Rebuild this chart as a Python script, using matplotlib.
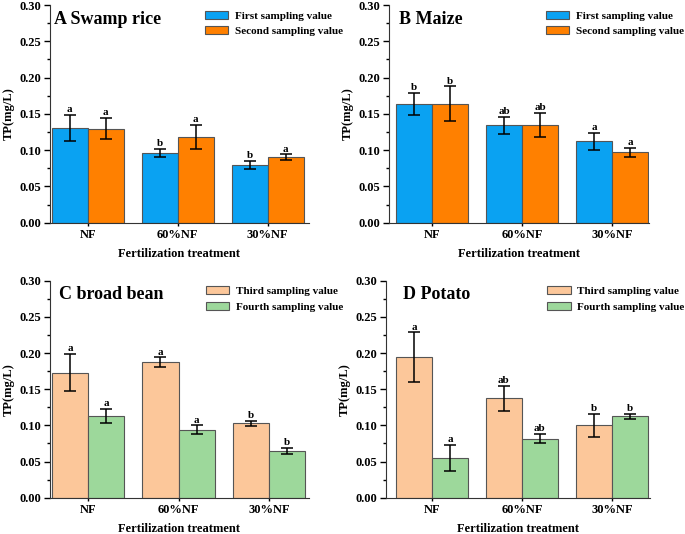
import numpy as np
import matplotlib
matplotlib.use('Agg')
import matplotlib.pyplot as plt
from matplotlib.ticker import MultipleLocator

plt.rcParams['font.family'] = 'Liberation Serif'
plt.rcParams['font.weight'] = 'bold'

# ------------------------------------------------
# DATA
treatments = ['NF', '60%NF', '30%NF']

rice_1 = [0.131, 0.096, 0.0795]
rice_1_err = [0.018, 0.0055, 0.0055]
rice_2 = [0.1295, 0.1185, 0.0905]
rice_2_err = [0.0145, 0.0165, 0.0037]
rice_1_lab = ['a', 'b', 'b']
rice_2_lab = ['a', 'a', 'a']

maize_1 = [0.164, 0.134, 0.112]
maize_1_err = [0.015, 0.012, 0.012]
maize_2 = [0.164, 0.135, 0.097]
maize_2_err = [0.0237, 0.0168, 0.006]
maize_1_lab = ['b', 'ab', 'a']
maize_2_lab = ['b', 'ab', 'a']

bean_3 = [0.1728, 0.1876, 0.1028]
bean_3_err = [0.0256, 0.0065, 0.0035]
bean_4 = [0.1134, 0.094, 0.0645]
bean_4_err = [0.0097, 0.006, 0.0046]
bean_3_lab = ['a', 'a', 'b']
bean_4_lab = ['a', 'a', 'b']

potato_3 = [0.1945, 0.1373, 0.100]
potato_3_err = [0.034, 0.017, 0.0157]
potato_4 = [0.0553, 0.0816, 0.1124]
potato_4_err = [0.0178, 0.0066, 0.0037]
potato_3_lab = ['a', 'ab', 'b']
potato_4_lab = ['a', 'ab', 'b']

BLUE = '#0AA2F2'
ORANGE = '#FF8000'
PEACH = '#FCC79A'
GREEN = '#9DD89B'

# ------------------------------------------------
# PLOTTING
fig = plt.figure(figsize=(6.85, 5.34), dpi=100)

panels = [
    ([0.073, 0.583, 0.378, 0.4076], 'A Swamp rice', 0.015, rice_1, rice_1_err, rice_2, rice_2_err,
     rice_1_lab, rice_2_lab, BLUE, ORANGE, 'First sampling value', 'Second sampling value', (-0.42, 2.46)),
    ([0.568, 0.583, 0.380, 0.4076], 'B Maize', 0.04, maize_1, maize_1_err, maize_2, maize_2_err,
     maize_1_lab, maize_2_lab, BLUE, ORANGE, 'First sampling value', 'Second sampling value', (-0.48, 2.41)),
    ([0.073, 0.068, 0.378, 0.4064], 'C broad bean', 0.033, bean_3, bean_3_err, bean_4, bean_4_err,
     bean_3_lab, bean_4_lab, PEACH, GREEN, 'Third sampling value', 'Fourth sampling value', (-0.42, 2.44)),
    ([0.5635, 0.068, 0.385, 0.4064], 'D Potato', 0.065, potato_3, potato_3_err, potato_4, potato_4_err,
     potato_3_lab, potato_4_lab, PEACH, GREEN, 'Third sampling value', 'Fourth sampling value', (-0.51, 2.42)),
]

x = np.arange(len(treatments))
w = 0.4

for rect, title, tx, v1, e1, v2, e2, l1, l2, c1, c2, n1, n2, xl in panels:
    ax = fig.add_axes(rect)
    ax.bar(x - w / 2, v1, w, color=c1, edgecolor='#555555', linewidth=0.8, label=n1, zorder=2)
    ax.bar(x + w / 2, v2, w, color=c2, edgecolor='#555555', linewidth=0.8, label=n2, zorder=2)
    ax.errorbar(x - w / 2, v1, yerr=e1, fmt='none', ecolor='black', elinewidth=1.1,
                capsize=4, capthick=1.1, zorder=3)
    ax.errorbar(x + w / 2, v2, yerr=e2, fmt='none', ecolor='black', elinewidth=1.1,
                capsize=4, capthick=1.1, zorder=3)
    for i in range(len(x)):
        ax.text(x[i] - w / 2, v1[i] + e1[i] + 0.001, l1[i], ha='center', va='bottom',
                fontsize=8, fontweight='bold')
        ax.text(x[i] + w / 2, v2[i] + e2[i] + 0.001, l2[i], ha='center', va='bottom',
                fontsize=8, fontweight='bold')

    ax.set_xlim(*xl)
    ax.set_ylim(0, 0.30)
    ax.yaxis.set_major_locator(MultipleLocator(0.05))
    ax.yaxis.set_minor_locator(MultipleLocator(0.025))
    ax.yaxis.set_major_formatter(matplotlib.ticker.FormatStrFormatter('%.2f'))
    ax.set_xticks(x)
    ax.set_xticklabels(treatments)
    ax.tick_params(axis='y', labelsize=9, width=1, length=4, pad=2)
    ax.tick_params(axis='x', labelsize=9, width=1, length=2, pad=2.5)
    ax.tick_params(axis='y', which='minor', length=2, width=1)
    ax.spines['top'].set_visible(False)
    ax.spines['right'].set_visible(False)
    ax.spines['left'].set_color('#333333')
    ax.spines['bottom'].set_color('#333333')
    for lab in ax.get_xticklabels() + ax.get_yticklabels():
        lab.set_fontweight('bold')

    ax.set_ylabel('TP(mg/L)', fontsize=9, fontweight='bold', labelpad=4)
    ax.set_xlabel('Fertilization treatment', fontsize=9, fontweight='bold', labelpad=5)
    ax.text(tx, 0.935, title, transform=ax.transAxes, fontsize=13, fontweight='bold',
            ha='left', va='center')
    ax.legend(loc='upper right', bbox_to_anchor=(1.17, 1.02), frameon=False,
              prop={'size': 8, 'weight': 'bold'}, handlelength=2.1, handleheight=0.75,
              labelspacing=0.5, handletextpad=0.6)

fig.savefig('out.png', dpi=100)
print('OK')
